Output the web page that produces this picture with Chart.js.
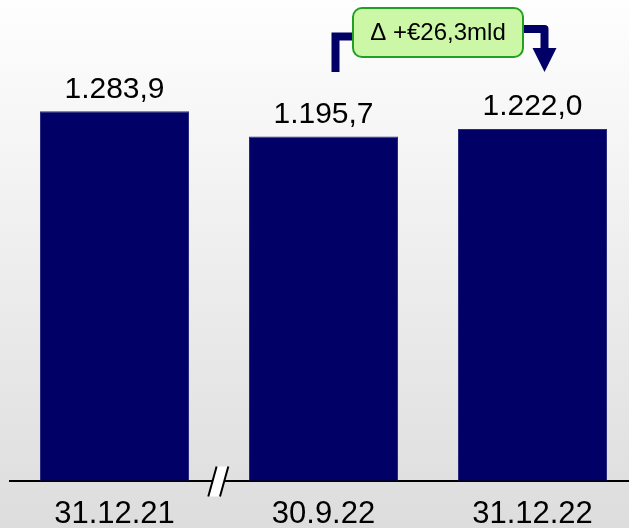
<!DOCTYPE html>
<html><head><meta charset="utf-8">
<script src="https://cdn.jsdelivr.net/npm/chart.js@4"></script>
<style>html,body{margin:0;padding:0;overflow:hidden;width:629px;height:528px;background:#eeeeee}canvas{display:block}</style>
</head><body>
<canvas id="c" width="640" height="548"></canvas>
<script>
const categories = ["31.12.21", "30.9.22", "31.12.22"];
const values = [1283.9, 1195.7, 1222.0];
const valueLabels = ["1.283,9", "1.195,7", "1.222,0"];
const deltaLabel = "Δ +€26,3mld";

const FONT = '"Liberation Sans", Arial, sans-serif';
const NAVY = '#000066';

const bgPlugin = {
  id: 'bg',
  beforeDraw(chart) {
    const ctx = chart.ctx;
    const g = ctx.createLinearGradient(0, 0, 0, 528);
    g.addColorStop(0, '#fefefe');
    g.addColorStop(1, '#dddddd');
    ctx.save();
    ctx.fillStyle = g;
    ctx.fillRect(0, 0, chart.width, chart.height);
    ctx.restore();
  }
};

const labelPlugin = {
  id: 'valueLabels',
  afterDatasetsDraw(chart) {
    const ctx = chart.ctx;
    const meta = chart.getDatasetMeta(0);
    ctx.save();
    ctx.font = '30px ' + FONT;
    ctx.fillStyle = '#000';
    ctx.textAlign = 'center';
    ctx.textBaseline = 'alphabetic';
    meta.data.forEach((bar, i) => {
      ctx.fillText(valueLabels[i], bar.x, bar.y - 13.5);
    });
    ctx.restore();
  }
};

const decoPlugin = {
  id: 'deco',
  afterDraw(chart) {
    const ctx = chart.ctx;
    const meta = chart.getDatasetMeta(0);
    const b0 = meta.data[0], b1 = meta.data[1], b2 = meta.data[2];
    const axisY = chart.chartArea.bottom;

    // axis break
    const cx = (b0.x + b1.x) / 2 - 0.7;
    const cy = axisY + 0.7;
    ctx.save();
    ctx.beginPath();
    ctx.moveTo(cx - 1.7, cy - 15);
    ctx.lineTo(cx + 10, cy - 15);
    ctx.lineTo(cx + 1.7, cy + 15);
    ctx.lineTo(cx - 10, cy + 15);
    ctx.closePath();
    ctx.fillStyle = '#ffffff';
    ctx.fill();
    ctx.strokeStyle = '#000';
    ctx.lineWidth = 2;
    ctx.beginPath();
    ctx.moveTo(cx - 1.7, cy - 15); ctx.lineTo(cx - 10, cy + 15);
    ctx.moveTo(cx + 10, cy - 15); ctx.lineTo(cx + 1.7, cy + 15);
    ctx.stroke();

    // delta box geometry
    const lx = b1.x + 12;
    const rx = b2.x + 12;
    const boxW = 170, boxH = 49;
    const boxX = (lx + rx) / 2 - boxW / 2 - 2;
    const boxY = 8;

    // connectors
    ctx.strokeStyle = NAVY;
    ctx.fillStyle = NAVY;
    ctx.lineWidth = 8;
    ctx.lineJoin = 'miter';
    ctx.beginPath();
    ctx.moveTo(lx, 72);
    ctx.lineTo(lx, 36.5);
    ctx.lineTo(boxX + 5, 36.5);
    ctx.stroke();
    ctx.lineJoin = 'round';
    ctx.beginPath();
    ctx.moveTo(boxX + boxW - 5, 29);
    ctx.lineTo(rx, 29);
    ctx.lineTo(rx, 50);
    ctx.stroke();
    ctx.beginPath();
    ctx.moveTo(rx - 12, 48);
    ctx.lineTo(rx + 12, 48);
    ctx.lineTo(rx, 72);
    ctx.closePath();
    ctx.fill();

    // box
    ctx.beginPath();
    ctx.roundRect(boxX, boxY, boxW, boxH, 9);
    ctx.fillStyle = '#ccf7a6';
    ctx.fill();
    ctx.lineWidth = 2;
    ctx.strokeStyle = '#22a022';
    ctx.stroke();
    ctx.fillStyle = '#000';
    ctx.font = '24px ' + FONT;
    ctx.textAlign = 'center';
    ctx.textBaseline = 'middle';
    ctx.fillText(deltaLabel, boxX + boxW / 2, boxY + boxH / 2 + 1);
    ctx.restore();
  }
};

new Chart(document.getElementById('c'), {
  type: 'bar',
  data: {
    labels: categories,
    datasets: [{
      data: values,
      backgroundColor: NAVY,
      borderColor: '#2a2a80',
      borderWidth: 1,
      categoryPercentage: 1,
      barPercentage: 0.713
    }]
  },
  options: {
    responsive: false,
    animation: false,
    layout: { padding: { top: 0, left: 10, right: 3, bottom: 0 } },
    plugins: { legend: { display: false }, tooltip: { enabled: false } },
    scales: {
      x: {
        grid: { display: false, drawTicks: false, tickLength: 0 },
        border: { display: true, color: '#000', width: 2 },
        ticks: { color: '#000', font: { size: 31, family: FONT }, padding: 15, maxRotation: 0, autoSkip: false }
      },
      y: {
        display: false,
        min: 0,
        max: 1670
      }
    }
  },
  plugins: [bgPlugin, labelPlugin, decoPlugin]
});
</script>
</body></html>
